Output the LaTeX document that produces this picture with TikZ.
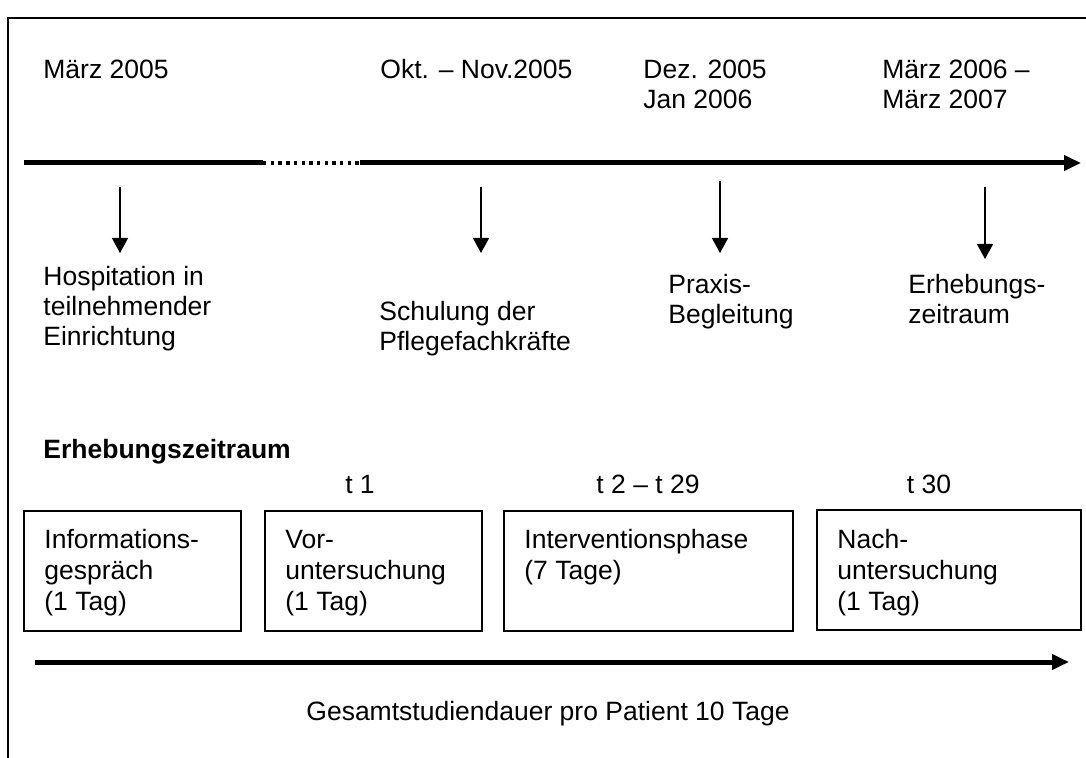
\documentclass[tikz,border=0pt]{standalone}
\usepackage{fontspec}
\setmainfont{Liberation Sans}
\usetikzlibrary{arrows.meta}
\newcommand\mlines[2][15pt]{\vtop{\baselineskip=#1\halign{##\hfil\cr#2\crcr}}}
\tikzset{
  txt/.style={anchor=base west, inner sep=0pt, font=\fontsize{13.25}{15}\selectfont},
  ctxt/.style={anchor=base, inner sep=0pt, font=\fontsize{13.25}{15}\selectfont},
  frameline/.style={line width=1pt},
  thickline/.style={line width=2.5pt},
  dotline/.style={line width=2pt, dash pattern=on 1.7pt off 2.15pt},
  downarrow/.style={line width=0.8pt, -{Triangle[width=8pt,length=7.5pt]}},
  bigarrow/.style={line width=2.5pt, -{Triangle[width=7.5pt,length=8.5pt]}},
  stagebox/.style={draw, line width=0.9pt, inner sep=0pt, anchor=north west, minimum height=60pt},
}
\begin{document}
\begin{tikzpicture}[x=0.5pt, y=-0.5pt]
\useasboundingbox (0,0) rectangle (1086,758);
% frame (cropped)
\draw[frameline] (8,758) -- (8,18) -- (1086,18);

% dates
\node[txt] (d1) at (43,79) {März 2005};
\node[txt] (d2) at (380,79) {Okt. – Nov.2005};
\node[txt] (d3) at (643,79) {\mlines{Dez. 2005\cr Jan 2006}};
\node[txt] (d4) at (882,79) {\mlines{März 2006 –\cr März 2007}};

% timeline
\coordinate (t0) at (24,163);
\coordinate (t1) at (263,163);
\coordinate (t2) at (360,163);
\coordinate (t3) at (1081,163);
\draw[thickline] (t0) -- (t1);
\draw[dotline] (t1) -- (t2);
\draw[bigarrow] (t2) -- (t3);

% down arrows
\coordinate (a1s) at (120,187); \coordinate (a1e) at (120,253);
\coordinate (a2s) at (481,187); \coordinate (a2e) at (481,253);
\coordinate (a3s) at (720,181); \coordinate (a3e) at (720,253);
\coordinate (a4s) at (985,187); \coordinate (a4e) at (985,259);
\draw[downarrow] (a1s) -- (a1e);
\draw[downarrow] (a2s) -- (a2e);
\draw[downarrow] (a3s) -- (a3e);
\draw[downarrow] (a4s) -- (a4e);

% activity labels
\node[txt] (l1) at (43,286) {\mlines{Hospitation in\cr teilnehmender\cr Einrichtung}};
\node[txt] (l2) at (379,321) {\mlines{Schulung der\cr Pflegefachkräfte}};
\node[txt] (l3) at (668,294) {\mlines{Praxis-\cr Begleitung}};
\node[txt] (l4) at (908,294) {\mlines{Erhebungs-\cr zeitraum}};

% Erhebungszeitraum
\node[txt, font=\fontsize{13.25}{15}\selectfont\bfseries] (eh) at (43,459) {Erhebungszeitraum};

\node[ctxt] (tA) at (360,494) {t 1};
\node[ctxt] (tB) at (648,494) {t 2 – t 29};
\node[ctxt] (tC) at (929,494) {t 30};

% boxes
\node[stagebox, minimum width=108.5pt] (b1) at (23,510) {};
\node[stagebox, minimum width=108.5pt] (b2) at (264,510) {};
\node[stagebox, minimum width=144.5pt] (b3) at (503,510) {};
\node[stagebox, minimum width=132pt] (b4) at (816,509) {};

\node[txt] (bt1) at (44,548) {\mlines[15.5pt]{Informations-\cr gespräch\cr (1 Tag)}};
\node[txt] (bt2) at (285,548) {\mlines[15.5pt]{Vor-\cr untersuchung\cr (1 Tag)}};
\node[txt] (bt3) at (524,548) {\mlines[15.5pt]{Interventionsphase\cr (7 Tage)}};
\node[txt] (bt4) at (837,548) {\mlines[15.5pt]{Nach-\cr untersuchung\cr (1 Tag)}};

% total duration arrow
\coordinate (g0) at (35,662);
\coordinate (g1) at (1069,662);
\draw[bigarrow] (g0) -- (g1);
\node[ctxt] (gs) at (548,720) {Gesamtstudiendauer pro Patient 10 Tage};
\end{tikzpicture}
\end{document}
